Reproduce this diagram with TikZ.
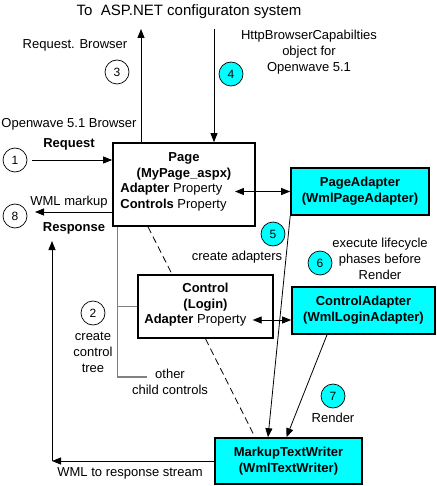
\documentclass[tikz,border=0pt]{standalone}
\usepackage{fontspec}
\setmainfont{Liberation Sans}
\usetikzlibrary{positioning, arrows.meta}
\definecolor{adaptercyan}{RGB}{0,255,255}

\begin{document}
\begin{tikzpicture}[x=1pt, y=-1pt, >={Triangle[length=9pt,width=7pt]}, line width=0.8pt,
  every node/.style={inner sep=0pt, align=center, font=\fontsize{13}{16}\selectfont},
  classbox/.style={draw, line width=1.6pt, fill=white},
  adapterbox/.style={draw, line width=1.6pt, fill=adaptercyan},
  stepnum/.style={draw, circle, line width=0.7pt, minimum size=24pt, font=\fontsize{12}{14}\selectfont},
  tree/.style={draw=gray, line width=1.3pt}]

  \useasboundingbox (0,0) rectangle (436,486);

  % Nodes
  \node (config) at (189,12) {\fontsize{15}{18}\selectfont To\ \ ASP.NET configuraton system};
  \coordinate (toconfig) at (141,29);
  \coordinate (fromconfig) at (214,29);
  \node (reqbrowser) at (75,45) {Request. Browser};
  \node[stepnum] (s3) at (117,72) {3};
  \node[stepnum, fill=adaptercyan] (s4) at (231,74) {4};
  \node (caps) at (309,52) {HttpBrowserCapabilties\\object for\\Openwave 5.1};
  \node (browser) at (69,124) {Openwave 5.1 Browser};
  \node (request) at (69,144) {\textbf{Request}};
  \node[stepnum] (s1) at (15,160) {1};
  \node[classbox, minimum width=142pt, minimum height=83pt] (page) at (184,184.5) {};
  \node (pagename) at (184,166) {\textbf{Page}\\\textbf{(MyPage\_aspx)}};
  \node[anchor=west, align=left] (pageprops) at (120,197) {\textbf{Adapter} Property\\\textbf{Controls} Property};
  \node[adapterbox, minimum width=138pt, minimum height=47pt] (pageadapter) at (360,191.5) {\textbf{PageAdapter}\\\textbf{(WmlPageAdapter)}};
  \node (markup) at (69,202) {WML markup};
  \node[stepnum] (s8) at (15,216) {8};
  \coordinate (markupend) at (35,212);
  \node (response) at (74,228) {\textbf{Response}};
  \coordinate (responseend) at (52,241);
  \node[stepnum, fill=adaptercyan] (s5) at (273,234) {5};
  \node (createadapters) at (237,257) {create adapters};
  \node[stepnum, fill=adaptercyan] (s6) at (320,263) {6};
  \node (lifecycle) at (380,259) {execute lifecycle\\phases before\\Render};
  \node[classbox, minimum width=135pt, minimum height=63pt] (control) at (205.5,306.5) {};
  \node (controlname) at (205.5,297) {\textbf{Control}\\\textbf{(Login)}};
  \node[anchor=west] (controlprops) at (144,320) {\textbf{Adapter} Property};
  \node[adapterbox, minimum width=143pt, minimum height=47pt] (controladapter) at (363.5,310.5) {\textbf{ControlAdapter}\\\textbf{(WmlLoginAdapter)}};
  \node[stepnum] (s2) at (93,313) {2};
  \node[below=6pt of s2] (createtree) {create\\control\\tree};
  \coordinate (treetop) at ([xshift=5pt]page.south west);
  \coordinate (treeend) at (147,377);
  \node (children) at (170,382) {other\\child controls};
  \node[stepnum, fill=adaptercyan] (s7) at (333,396) {7};
  \node[below=4pt of s7] (render) {Render};
  \node[adapterbox, minimum width=147pt, minimum height=46pt] (writer) at (288.5,461) {\textbf{MarkupTextWriter}\\\textbf{(WmlTextWriter)}};
  \node (stream) at (130,473) {WML to response stream};

  % Arrows
  \draw[->] (page.north -| toconfig) -- (toconfig);
  \draw[->] (fromconfig) -- (page.north -| fromconfig);
  \draw[->, shorten <=5pt] (s1.east) -- (page.west |- s1.east);
  \draw[->] (page.west |- markupend) -- (markupend);
  \draw[<->, shorten <=8pt] (pageprops.east |- pageadapter.west) -- (pageadapter.west);
  \draw[<->, shorten <=6pt] (controlprops.east) -- (controlprops.east -| controladapter.west);
  \draw[dash pattern=on 7pt off 4pt] ([xshift=-36pt]page.south) -- ([xshift=-33.5pt]control.north);
  \draw[dash pattern=on 7pt off 4pt] (control.south) -- ([xshift=-33.5pt]writer.north);
  \draw[->] (pageadapter.south west) -- ([xshift=-20.5pt]writer.north);
  \draw[->] ([xshift=-36.5pt]controladapter.south) -- ([xshift=-2pt]writer.north);
  \draw[tree] (treetop) |- (treeend);
  \draw[tree] (control.west) -- (control.west -| treetop);
  \draw[->] (writer.west) -- (writer.west -| responseend);
  \draw[->] (writer.west -| responseend) -- (responseend);

\end{tikzpicture}
\end{document}
